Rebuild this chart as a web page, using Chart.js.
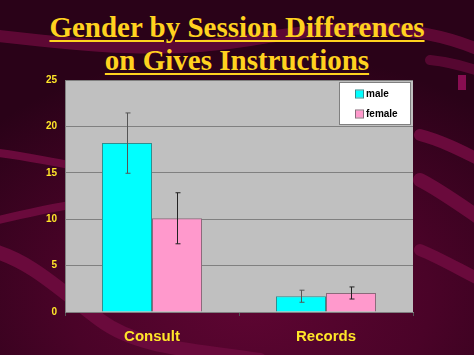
<!DOCTYPE html>
<html><head><meta charset="utf-8">
<script src="https://cdn.jsdelivr.net/npm/chart.js@4/dist/chart.umd.min.js"></script>
<style>
html,body{margin:0;padding:0;}
body{width:474px;height:355px;overflow:hidden;position:relative;
background: radial-gradient(ellipse 360px 250px at 250px 300px, #5e0532 0%, #4a0328 50%, #2a0218 100%);}
#bg{position:absolute;left:0;top:0;}
#title{position:absolute;left:0;top:11px;width:474px;text-align:center;font-family:"Liberation Serif","Times New Roman",serif;font-weight:bold;font-size:29px;line-height:33px;color:#FFD21F;}
#title span{text-decoration:underline;text-decoration-thickness:2px;text-underline-offset:3px;}
#wrap{position:absolute;left:0;top:0;width:474px;height:355px;}
</style></head>
<body>
<svg id="bg" width="474" height="355" viewBox="0 0 474 355">
  <g fill="none" stroke="#6a0a3c" stroke-linecap="round">
    <path d="M-10 35 C 80 45, 160 55, 250 40 S 420 20, 490 55" stroke-width="12" opacity="0.8"/>
    <path d="M-10 152 C 20 155, 40 160, 70 165" stroke-width="8"/>
    <path d="M-10 222 C 20 215, 40 210, 70 205" stroke-width="8"/>
    <path d="M-10 250 C 30 260, 60 290, 100 320 S 200 350, 260 360" stroke-width="14"/>
    <path d="M420 135 C 440 140, 460 150, 490 165" stroke-width="12"/>
    <path d="M420 180 C 440 190, 460 205, 490 225" stroke-width="14"/>
    <path d="M420 250 C 440 258, 460 270, 490 285" stroke-width="12"/>
    <path d="M430 60 C 450 62, 465 66, 490 75" stroke-width="10" opacity="0.7"/>
  </g>
  <rect x="458" y="75" width="8" height="15" fill="#a01060" opacity="0.8"/>
</svg>
<div id="title"><span>Gender by Session Differences</span><br><span>on Gives Instructions</span></div>
<div id="wrap"><canvas id="c" width="474" height="355"></canvas></div>
<script>
const categories = ["Consult", "Records"];
const seriesNames = ["male", "female"];
const maleValues = [18.2, 1.7];
const femaleValues = [10.1, 2.05];
const maleErrors = [3.25, 0.65];
const femaleErrors = [2.75, 0.65];
const yTicks = [0, 5, 10, 15, 20, 25];

const errorPlugin = {
  id: 'errs',
  beforeDraw(chart) {
    const a = chart.chartArea, ctx = chart.ctx;
    ctx.save();
    ctx.fillStyle = '#c0c0c0';
    ctx.fillRect(a.left, a.top, a.right - a.left, a.bottom - a.top);
    ctx.restore();
  },
  afterDatasetsDraw(chart) {
    const ctx = chart.ctx, y = chart.scales.y;
    const errs = [maleErrors, femaleErrors];
    ctx.save();
    chart.data.datasets.forEach((ds, di) => {
      const meta = chart.getDatasetMeta(di);
      meta.data.forEach((bar, i) => {
        const v = ds.data[i], e = errs[di][i];
        const yt = y.getPixelForValue(v + e), yb = y.getPixelForValue(v - e);
        const x = Math.round(bar.x) + 0.5;
        ctx.strokeStyle = di === 0 ? '#555' : '#222';
        ctx.lineWidth = 1;
        ctx.beginPath();
        ctx.moveTo(x, yt); ctx.lineTo(x, yb);
        ctx.moveTo(x - 2, yt); ctx.lineTo(x + 3, yt);
        ctx.moveTo(x - 2, yb); ctx.lineTo(x + 3, yb);
        ctx.stroke();
      });
    });
    // legend box
    const lx = 339, ly = 82, lw = 71, lh = 42;
    ctx.fillStyle = '#ffffff';
    ctx.fillRect(lx, ly, lw, lh);
    ctx.strokeStyle = '#808080';
    ctx.lineWidth = 1;
    ctx.strokeRect(lx + 0.5, ly + 0.5, lw, lh);
    ctx.font = 'bold 10px "Liberation Sans", Arial, sans-serif';
    ctx.textBaseline = 'middle';
    chart.data.datasets.forEach((ds, di) => {
      const cy = ly + 12 + di * 20;
      ctx.fillStyle = ds.backgroundColor;
      ctx.fillRect(lx + 17, cy - 3.5, 7, 7);
      ctx.strokeStyle = ds.borderColor;
      ctx.strokeRect(lx + 16.5, cy - 4, 8, 8);
      ctx.fillStyle = '#000';
      ctx.fillText(ds.label, lx + 27, cy);
    });
    ctx.restore();
  }
};

new Chart(document.getElementById('c'), {
  type: 'bar',
  data: {
    labels: categories,
    datasets: [
      { label: seriesNames[0], data: maleValues, backgroundColor: '#00FFFF', borderColor: '#2f8e8e', borderWidth: 1 },
      { label: seriesNames[1], data: femaleValues, backgroundColor: '#FF99CC', borderColor: '#8a6a7a', borderWidth: 1 }
    ]
  },
  options: {
    responsive: false,
    animation: false,
    devicePixelRatio: 1,
    layout: { padding: { left: 30, right: 61, top: 80, bottom: 0 } },
    plugins: { legend: { display: false }, tooltip: { enabled: false } },
    datasets: { bar: { categoryPercentage: 0.575, barPercentage: 1.0 } },
    scales: {
      x: {
        afterFit(s) { s.height = 43; },
        grid: { display: true, drawOnChartArea: false, drawTicks: true, tickLength: 4, color: '#555', offset: true },
        border: { display: true, color: '#808080' },
        ticks: { color: '#FFE629', padding: 12, font: { family: '"Liberation Sans", Arial, sans-serif', size: 15, weight: 'bold' } }
      },
      y: {
        min: 0, max: 25,
        afterFit(s) { s.width = 35; },
        afterBuildTicks(s) { s.ticks = yTicks.map(v => ({ value: v })); },
        grid: { color: '#808080', lineWidth: 1, drawTicks: false },
        border: { display: true, color: '#808080' },
        ticks: { color: '#FFE629', padding: 8, font: { family: '"Liberation Sans", Arial, sans-serif', size: 10, weight: 'bold' } }
      }
    }
  },
  plugins: [errorPlugin]
});
</script>
</body></html>
